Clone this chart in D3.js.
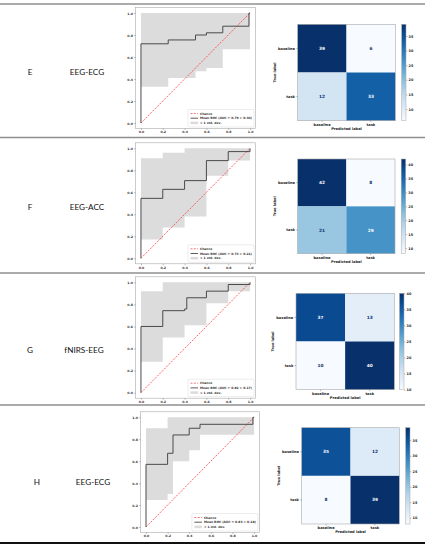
<!DOCTYPE html>
<html><head><meta charset="utf-8">
<script src="https://cdn.jsdelivr.net/npm/d3@7"></script>
<style>body{margin:0;background:#fff}svg{display:block}</style>
</head><body>
<svg id="c" width="434" height="550"></svg>
<script>
// ---------- data ----------
const panelIds = ["E", "F", "G", "H"];
const modalities = ["EEG-ECG", "EEG-ACC", "fNIRS-EEG", "EEG-ECG"];
const meanAuc = ["0.79 ± 0.30", "0.74 ± 0.21", "0.82 ± 0.17", "0.83 ± 0.18"];
const classLabels = ["baseline", "task"];
const rocTicks = [0, 0.2, 0.4, 0.6, 0.8, 1.0];
const legendLabels = ["Chance", "Mean ROC", "± 1 std. dev."];

// mean ROC step points (fpr, tpr)
const rocFprE = [0, 0, 0.25, 0.5, 0.6, 0.75, 0.99, 1.0];
const rocTprE = [0, 0.72, 0.755, 0.80, 0.82, 0.88, 1.0, 1.0];
const rocFprF = [0, 0, 0.2, 0.4, 0.6, 0.8, 1.0];
const rocTprF = [0, 0.545, 0.627, 0.706, 0.888, 0.97, 1.0];
const rocFprG = [0, 0, 0.2, 0.4, 0.42, 0.6, 0.8, 1.0];
const rocTprG = [0, 0.60, 0.743, 0.758, 0.86, 0.92, 0.98, 1.0];
const rocFprH = [0, 0, 0.2, 0.25, 0.4, 0.5, 0.99, 1.0];
const rocTprH = [0, 0.571, 0.672, 0.839, 0.90, 0.936, 1.0, 1.0];

// ±1 std band (steps)
const bandFprE = [0, 0.25, 0.5, 0.6, 0.75, 1.0];
const bandLowE = [0.33, 0.41, 0.47, 0.50, 0.67, 0.67];
const bandHighE = [1, 1, 1, 1, 1, 1];
const bandFprF = [0, 0.2, 0.4, 0.6, 0.8, 1.0];
const bandLowF = [0.17, 0.28, 0.38, 0.75, 0.89, 1.0];
const bandHighF = [0.91, 0.96, 1, 1, 1, 1];
const bandFprG = [0, 0.2, 0.4, 0.6, 0.8, 1.0];
const bandLowG = [0.28, 0.50, 0.61, 0.81, 0.92, 1.0];
const bandHighG = [0.92, 1, 1, 1, 1, 1];
const bandFprH = [0, 0.2, 0.25, 0.4, 0.5, 1.0];
const bandLowH = [0.246, 0.30, 0.60, 0.70, 0.84, 0.84];
const bandHighH = [0.90, 1, 1, 1, 1, 1];

// confusion matrices (rows: true, cols: predicted)
const cmE = [[39, 6], [12, 33]];
const cmF = [[42, 8], [21, 29]];
const cmG = [[37, 13], [10, 40]];
const cmH = [[35, 12], [8, 39]];

// ---------- assemble ----------
const rocFpr = [rocFprE, rocFprF, rocFprG, rocFprH];
const rocTpr = [rocTprE, rocTprF, rocTprG, rocTprH];
const bandFpr = [bandFprE, bandFprF, bandFprG, bandFprH];
const bandLow = [bandLowE, bandLowF, bandLowG, bandLowH];
const bandHigh = [bandHighE, bandHighF, bandHighG, bandHighH];
const cms = [cmE, cmF, cmG, cmH];

// ---------- layout (positions only) ----------
const layout = [
  {roc:{l:135.5,r:255.5,t:7.5,b:128.5}, cm:{l:297.7,r:395.3,t:24.3,b:120.7}, cb:{l:401.7,w:4.3}, letterX:30, nameX:87, textY:72},
  {roc:{l:135.5,r:255.5,t:142.8,b:263.8}, cm:{l:297.7,r:395,t:159,b:253.7}, cb:{l:401.2,w:4.5}, letterX:30, nameX:87, textY:207},
  {roc:{l:135.5,r:255.5,t:276.8,b:398.2}, cm:{l:296,r:394.3,t:293.3,b:389.7}, cb:{l:399.5,w:4.5}, letterX:30, nameX:84, textY:350},
  {roc:{l:140.6,r:259.4,t:411.8,b:532.5}, cm:{l:301.7,r:399.3,t:427.7,b:524}, cb:{l:405.7,w:4.3}, letterX:37, nameX:93, textY:482}
];
const separators = [{y:4, c:"#8f8f8f", w:1.3}, {y:137.5, c:"#8f8f8f", w:1.3}, {y:273, c:"#8f8f8f", w:1.3}, {y:405, c:"#8f8f8f", w:1.6}, {y:543, c:"#111", w:2}];

const svg = d3.select("#c");
const small = "DejaVu Sans";
const defs = svg.append("defs");

separators.forEach(s => {
  svg.append("line").attr("x1", 0).attr("x2", 425).attr("y1", s.y).attr("y2", s.y)
    .attr("stroke", s.c).attr("stroke-width", s.w);
});

panelIds.forEach((pid, i) => {
  const L = layout[i];
  // row labels
  svg.append("text").attr("x", L.letterX).attr("y", L.textY).attr("text-anchor", "middle")
    .attr("dominant-baseline", "central").attr("font-family", "Lato").attr("font-size", 8.2)
    .attr("fill", "#111").text(pid);
  svg.append("text").attr("x", L.nameX).attr("y", L.textY).attr("text-anchor", "middle")
    .attr("dominant-baseline", "central").attr("font-family", "Lato").attr("font-size", 8.2)
    .attr("fill", "#111").text(modalities[i]);

  // ---------- ROC ----------
  const R = L.roc;
  const x = d3.scaleLinear().domain([-0.05, 1.05]).range([R.l, R.r]);
  const y = d3.scaleLinear().domain([-0.05, 1.05]).range([R.b, R.t]);
  const g = svg.append("g");
  g.append("rect").attr("x", R.l).attr("y", R.t).attr("width", R.r - R.l).attr("height", R.b - R.t)
    .attr("fill", "#fff");
  const band = bandFpr[i].map((f, k) => ({f, lo: bandLow[i][k], hi: bandHigh[i][k]}));
  g.append("path").datum(band)
    .attr("d", d3.area().x(d => x(d.f)).y0(d => y(d.lo)).y1(d => y(d.hi)).curve(d3.curveStepAfter))
    .attr("fill", "#dcdcdc");
  g.append("line").attr("x1", x(0)).attr("y1", y(0)).attr("x2", x(1)).attr("y2", y(1))
    .attr("stroke", "#ff3b3b").attr("stroke-width", 0.8).attr("stroke-dasharray", "2,1.3");
  const pts = rocFpr[i].map((f, k) => [f, rocTpr[i][k]]);
  g.append("path").datum(pts)
    .attr("d", d3.line().x(d => x(d[0])).y(d => y(d[1])).curve(d3.curveStepAfter))
    .attr("fill", "none").attr("stroke", "#4a4a4a").attr("stroke-width", 1.0);
  g.append("rect").attr("x", R.l).attr("y", R.t).attr("width", R.r - R.l).attr("height", R.b - R.t)
    .attr("fill", "none").attr("stroke", "#a8a8a8").attr("stroke-width", 0.6);
  const xAx = d3.axisBottom(x).tickValues(rocTicks).tickFormat(d3.format(".1f")).tickSize(1.4).tickPadding(1.2);
  const yAx = d3.axisLeft(y).tickValues(rocTicks).tickFormat(d3.format(".1f")).tickSize(1.4).tickPadding(1.2);
  const xa = g.append("g").attr("transform", `translate(0,${R.b})`).call(xAx);
  const ya = g.append("g").attr("transform", `translate(${R.l},0)`).call(yAx);
  [xa, ya].forEach(a => {
    a.select(".domain").remove();
    a.selectAll("line").attr("stroke", "#555").attr("stroke-width", 0.4);
    a.selectAll("text").attr("font-family", small).attr("font-size", 3.2)
      .attr("font-weight", "bold").attr("fill", "#333");
  });
  // legend
  const lw = 66, lh = 17.5;
  const lx = R.r - 1.5 - lw, ly = R.b - 1.5 - lh;
  const lg = g.append("g");
  lg.append("rect").attr("x", lx).attr("y", ly).attr("width", lw).attr("height", lh).attr("rx", 1)
    .attr("fill", "#fff").attr("stroke", "#d0d0d0").attr("stroke-width", 0.4);
  const rows = [ly + 4, ly + 8.7, ly + 13.4];
  lg.append("line").attr("x1", lx + 2.5).attr("x2", lx + 10).attr("y1", rows[0]).attr("y2", rows[0])
    .attr("stroke", "#ff3b3b").attr("stroke-width", 0.7).attr("stroke-dasharray", "2,1.3");
  lg.append("line").attr("x1", lx + 2.5).attr("x2", lx + 10).attr("y1", rows[1]).attr("y2", rows[1])
    .attr("stroke", "#4a4a4a").attr("stroke-width", 0.9);
  lg.append("rect").attr("x", lx + 2.5).attr("y", rows[2] - 1.3).attr("width", 7.5).attr("height", 2.6)
    .attr("fill", "#dcdcdc");
  const texts = [legendLabels[0], `${legendLabels[1]} (AUC = ${meanAuc[i]})`, legendLabels[2]];
  texts.forEach((t, k) => {
    lg.append("text").attr("x", lx + 12).attr("y", rows[k]).attr("dominant-baseline", "central")
      .attr("font-family", small).attr("font-size", 3).attr("font-weight", "bold").attr("fill", "#333").text(t);
  });

  // ---------- confusion matrix ----------
  const C = L.cm, M = cms[i];
  const flat = M.flat();
  const vmin = d3.min(flat), vmax = d3.max(flat);
  const color = d3.scaleSequential(d3.interpolateBlues).domain([vmin, vmax]);
  const cx = d3.scaleBand().domain(classLabels).range([C.l, C.r]);
  const cy = d3.scaleBand().domain(classLabels).range([C.t, C.b]);
  const cg = svg.append("g");
  const thresh = (vmin + vmax) / 2;
  classLabels.forEach((tl, r) => classLabels.forEach((pl, c) => {
    const v = M[r][c];
    cg.append("rect").attr("x", cx(pl)).attr("y", cy(tl)).attr("width", cx.bandwidth()).attr("height", cy.bandwidth())
      .attr("fill", color(v));
    cg.append("text").attr("x", cx(pl) + cx.bandwidth() / 2).attr("y", cy(tl) + cy.bandwidth() / 2)
      .attr("text-anchor", "middle").attr("dominant-baseline", "central")
      .attr("font-family", small).attr("font-size", 4.3).attr("font-weight", "bold")
      .attr("fill", v < thresh ? d3.interpolateBlues(1) : d3.interpolateBlues(0)).text(v);
  }));
  cg.append("rect").attr("x", C.l).attr("y", C.t).attr("width", C.r - C.l).attr("height", C.b - C.t)
    .attr("fill", "none").attr("stroke", "#a8a8a8").attr("stroke-width", 0.6);
  const cxa = cg.append("g").attr("transform", `translate(0,${C.b})`)
    .call(d3.axisBottom(cx).tickSize(1.5).tickPadding(1.2));
  const cya = cg.append("g").attr("transform", `translate(${C.l},0)`)
    .call(d3.axisLeft(cy).tickSize(1.5).tickPadding(1.2));
  [cxa, cya].forEach(a => {
    a.select(".domain").remove();
    a.selectAll("line").attr("stroke", "#555").attr("stroke-width", 0.4);
    a.selectAll("text").attr("font-family", small).attr("font-size", 3.6)
      .attr("font-weight", "bold").attr("fill", "#222");
  });
  cg.append("text").attr("x", (C.l + C.r) / 2).attr("y", C.b + 8.3).attr("text-anchor", "middle")
    .attr("dominant-baseline", "central").attr("font-family", small).attr("font-size", 3.6)
    .attr("font-weight", "bold").attr("fill", "#222").text("Predicted label");
  cg.append("text").attr("transform", `translate(${C.l - 23},${(C.t + C.b) / 2}) rotate(-90)`)
    .attr("text-anchor", "middle").attr("dominant-baseline", "central").attr("font-family", small)
    .attr("font-size", 3.6).attr("font-weight", "bold").attr("fill", "#222").text("True label");

  // colorbar
  const cb = L.cb;
  const gid = "cbg" + i;
  const grad = defs.append("linearGradient").attr("id", gid).attr("x1", 0).attr("y1", 1).attr("x2", 0).attr("y2", 0);
  d3.range(0, 1.0001, 0.1).forEach(t => grad.append("stop").attr("offset", t).attr("stop-color", d3.interpolateBlues(t)));
  cg.append("rect").attr("x", cb.l).attr("y", C.t).attr("width", cb.w).attr("height", C.b - C.t)
    .attr("fill", `url(#${gid})`).attr("stroke", "#a8a8a8").attr("stroke-width", 0.5);
  const cbScale = d3.scaleLinear().domain([vmin, vmax]).range([C.b, C.t]);
  const cba = cg.append("g").attr("transform", `translate(${cb.l + cb.w},0)`)
    .call(d3.axisRight(cbScale).ticks(7).tickSize(1.4).tickPadding(1.2));
  cba.select(".domain").remove();
  cba.selectAll("line").attr("stroke", "#555").attr("stroke-width", 0.4);
  cba.selectAll("text").attr("font-family", small).attr("font-size", 3.4)
    .attr("font-weight", "bold").attr("fill", "#222");
});
</script>
</body></html>
